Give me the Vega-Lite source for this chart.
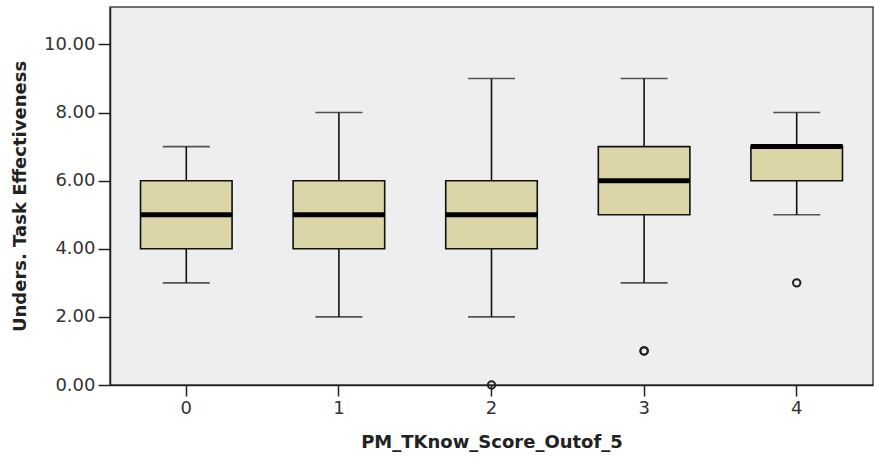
{
  "$schema": "https://vega.github.io/schema/vega-lite/v6.json",
  "width": 763,
  "height": 378,
  "autosize": {"type": "none"},
  "padding": {"left": 110, "top": 7, "right": 1, "bottom": 73},
  "background": "white",
  "config": {
    "font": "DejaVu Sans",
    "view": {"fill": "#eeeeee", "stroke": "#444444", "strokeWidth": 1.5},
    "axis": {
      "labelFont": "DejaVu Sans",
      "labelFontSize": 18,
      "labelColor": "#333333",
      "titleFont": "DejaVu Sans",
      "titleFontSize": 18,
      "titleFontWeight": "bold",
      "titleColor": "#222222",
      "domainColor": "#222222",
      "domainWidth": 1.5,
      "tickColor": "#222222",
      "tickWidth": 1.5,
      "grid": false
    }
  },
  "datasets": {
    "boxes": [
      {"group": "0", "lower": 3, "q1": 4, "median": 5, "q3": 6, "upper": 7},
      {"group": "1", "lower": 2, "q1": 4, "median": 5, "q3": 6, "upper": 8},
      {"group": "2", "lower": 2, "q1": 4, "median": 5, "q3": 6, "upper": 9},
      {"group": "3", "lower": 3, "q1": 5, "median": 6, "q3": 7, "upper": 9},
      {"group": "4", "lower": 5, "q1": 6, "median": 7, "q3": 7, "upper": 8}
    ],
    "outliers": [
      {"group": "2", "value": 0},
      {"group": "3", "value": 1},
      {"group": "3", "value": 1},
      {"group": "4", "value": 3}
    ]
  },
  "encoding": {
    "x": {
      "field": "group",
      "type": "nominal",
      "scale": {"domain": ["0", "1", "2", "3", "4"], "paddingInner": 0.4, "paddingOuter": 0.2},
      "axis": {"labelAngle": 0, "tickSize": 11, "labelPadding": 3, "title": "PM_TKnow_Score_Outof_5", "titlePadding": 16}
    }
  },
  "layer": [
    {
      "data": {"name": "boxes"},
      "mark": {"type": "rule", "color": "#111111", "strokeWidth": 1.6},
      "encoding": {
        "y": {
          "field": "lower",
          "type": "quantitative",
          "scale": {"domain": [0, 11.1], "nice": false, "zero": false},
          "axis": {"values": [0, 2, 4, 6, 8, 10], "format": ".2f", "tickSize": 12, "labelPadding": 3, "title": "Unders. Task Effectiveness", "titlePadding": 14}
        },
        "y2": {"field": "upper"}
      }
    },
    {
      "data": {"name": "boxes"},
      "mark": {"type": "tick", "color": "#111111", "size": 47, "thickness": 1.6, "orient": "horizontal"},
      "encoding": {"y": {"field": "lower", "type": "quantitative"}}
    },
    {
      "data": {"name": "boxes"},
      "mark": {"type": "tick", "color": "#111111", "size": 47, "thickness": 1.6, "orient": "horizontal"},
      "encoding": {"y": {"field": "upper", "type": "quantitative"}}
    },
    {
      "data": {"name": "boxes"},
      "mark": {"type": "bar", "fill": "#dad6a7", "stroke": "#111111", "strokeWidth": 1.6},
      "encoding": {
        "y": {"field": "q1", "type": "quantitative"},
        "y2": {"field": "q3"}
      }
    },
    {
      "data": {"name": "boxes"},
      "mark": {"type": "tick", "color": "#000000", "size": 92, "thickness": 5, "orient": "horizontal", "opacity": 1},
      "encoding": {"y": {"field": "median", "type": "quantitative"}}
    },
    {
      "data": {"name": "outliers"},
      "mark": {"type": "point", "shape": "circle", "filled": false, "size": 55, "stroke": "#222222", "strokeWidth": 2, "opacity": 1},
      "encoding": {"y": {"field": "value", "type": "quantitative"}}
    }
  ]
}
